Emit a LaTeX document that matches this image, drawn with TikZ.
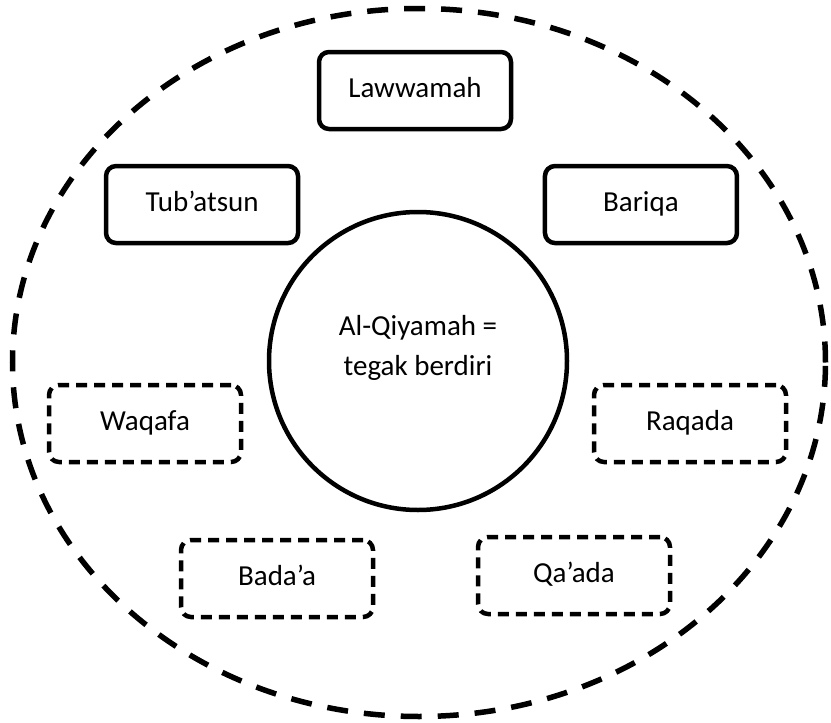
\documentclass[tikz,border=0pt]{standalone}
\usepackage{fontspec}
\setmainfont{Carlito}
\usetikzlibrary{positioning}

\begin{document}
\begin{tikzpicture}[
    x=1pt, y=-1pt,
    every node/.style={font=\fontsize{29pt}{40pt}\selectfont},
    core/.style={
        circle,
        draw,
        line width=4.5pt,
        minimum size=298pt,
        inner sep=0pt,
        outer sep=0pt
    },
    soulbox/.style={
        rectangle,
        rounded corners=10pt,
        draw,
        line width=4.5pt,
        minimum width=192pt,
        text height=45pt,
        text depth=32pt,
        inner ysep=0pt,
        outer sep=0pt
    },
    soulboxdashed/.style={
        soulbox,
        dash pattern=on 11pt off 7pt
    },
    outerring/.style={
        draw,
        line width=5.5pt,
        dash pattern=on 21pt off 16pt
    }
]
    \useasboundingbox (0,0) rectangle (831,723);

    % Lingkaran luar
    \draw [outerring] (419,362.5) ellipse [x radius=406.5pt, y radius=354pt];

    \node (qiyamah) [core] at (418,361) {};
    \node (qiyamahtext) [align=center, yshift=13pt] at (qiyamah) {Al-Qiyamah =\\tegak berdiri};

    % Kotak garis penuh
    \node (lawwamah) [soulbox, above=83pt of qiyamah, xshift=-3pt] {Lawwamah};
    \node (tubatsun) [soulbox, above left=12.6pt and 14.6pt of qiyamah] {Tub’atsun};
    \node (bariqa) [soulbox, above right=12.6pt and 21.6pt of qiyamah] {Bariqa};

    % Kotak garis putus-putus
    \node (waqafa) [soulboxdashed, left=28pt of qiyamah, yshift=-62.5pt] {Waqafa};
    \node (raqada) [soulboxdashed, right=27pt of qiyamah, yshift=-62.5pt] {Raqada};
    \node (bada) [soulboxdashed, below=30pt of qiyamah, xshift=-141pt] {Bada’a};
    \node (qaada) [soulboxdashed, below=27pt of qiyamah, xshift=156pt] {Qa’ada};
\end{tikzpicture}
\end{document}
